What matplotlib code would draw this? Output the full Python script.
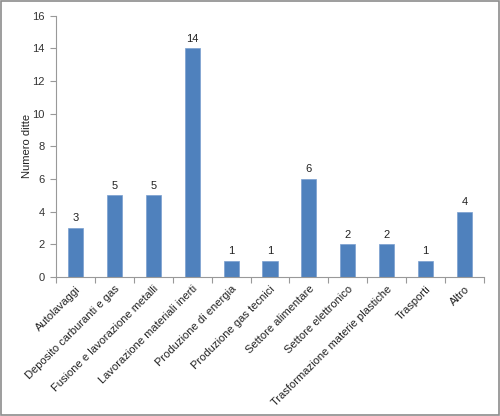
import numpy as np
import matplotlib.pyplot as plt
from matplotlib.patches import Rectangle

# category data
categorie = ['Autolavaggi', 'Deposito carburanti e gas', 'Fusione e lavorazione metalli',
             'Lavorazione materiali inerti', 'Produzione di energia', 'Produzione gas tecnici',
             'Settore alimentare', 'Settore elettronico', 'Trasformazione materie plastiche',
             'Trasporti', 'Altro']
numero_ditte = [3, 5, 5, 14, 1, 1, 6, 2, 2, 1, 4]
y_ticks = [0, 2, 4, 6, 8, 10, 12, 14, 16]

plt.rcParams['font.family'] = ['Liberation Sans', 'DejaVu Sans']
fs = 8.0

fig = plt.figure(figsize=(5, 4.16), dpi=100)
ax = fig.add_axes([0.112, 0.334, 0.856, 0.628])

x = np.arange(len(categorie))
bars = ax.bar(x, numero_ditte, width=0.39, color='#4f81bd', edgecolor='#7a9fd0', linewidth=0.5)
for xi, v in zip(x, numero_ditte):
    ax.text(xi, v + 0.3, str(v), ha='center', va='bottom', fontsize=fs, color='#222222')

ax.set_xlim(-0.5, len(categorie) - 0.5)
ax.set_ylim(0, 16)
ax.set_yticks(y_ticks)
ax.set_yticklabels([str(t) for t in y_ticks], fontsize=fs, color='#333333')
ax.set_ylabel('Numero ditte', fontsize=fs, color='#222222', labelpad=0.5)

# category boundaries as ticks, labels at centers
ax.set_xticks(np.arange(-0.5, len(categorie) + 0.5, 1.0))
ax.set_xticklabels([])
ax.set_xticks(x, minor=True)
ax.set_xticklabels(categorie, minor=True, rotation=45, ha='right', rotation_mode='anchor',
                   fontsize=fs, color='#222222')
ax.tick_params(axis='x', which='minor', length=0, pad=5)
ax.tick_params(axis='x', which='major', length=4, color='#999999', width=0.8)
ax.tick_params(axis='y', length=4, color='#999999', width=0.8, pad=4)

for s in ['top', 'right']:
    ax.spines[s].set_visible(False)
for s in ['left', 'bottom']:
    ax.spines[s].set_color('#999999')
    ax.spines[s].set_linewidth(0.8)

fig.patches.append(Rectangle((0.002, 0.002), 0.996, 0.996, transform=fig.transFigure,
                             fill=False, edgecolor='#8c8c8c', linewidth=1.2))

fig.savefig('out.png', dpi=100)
